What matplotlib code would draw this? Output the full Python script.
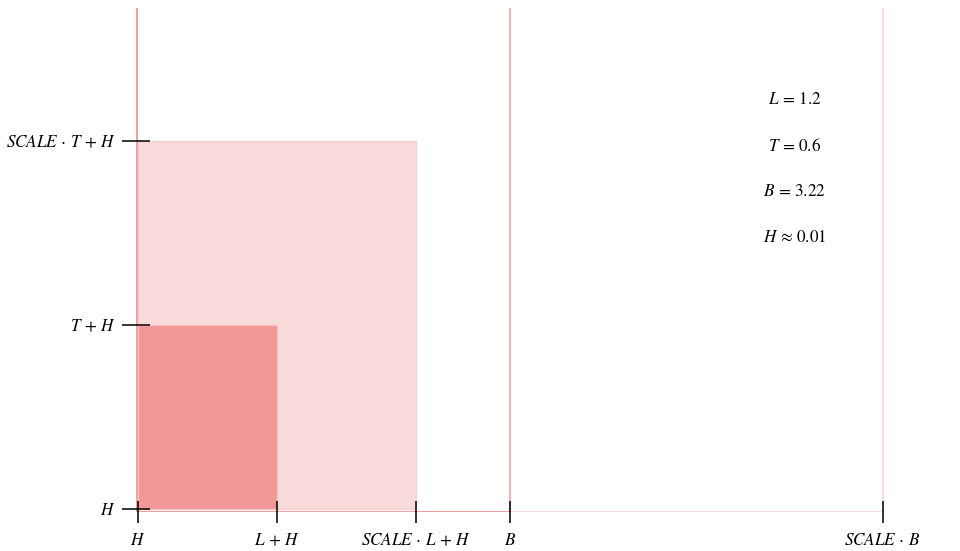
import matplotlib
matplotlib.use("Agg")
import matplotlib.pyplot as plt
from matplotlib.patches import Rectangle

# quantities shown in the diagram
L = 1.2
T = 0.6
B = 3.22
H = 0.01
SCALE = 2.0

x_tick_values = [H, L + H, SCALE * L + H, B, SCALE * B]
x_tick_labels = [r"$H$", r"$L\,+\,H$", r"$SCALE\,\cdot\,L\,+\,H$", r"$B$", r"$SCALE\,\cdot\,B$"]
y_tick_values = [H, T + H, SCALE * T + H]
y_tick_labels = [r"$H$", r"$T\,+\,H$", r"$SCALE\,\cdot\,T\,+\,H$"]
info_lines = [r"$L\,=\,1.2$", r"$T\,=\,0.6$", r"$B\,=\,3.22$", r"$H\,\approx\,0.01$"]

plt.rcParams["mathtext.fontset"] = "stix"
plt.rcParams["font.family"] = ["STIXGeneral", "DejaVu Serif"]

fs = 12.3

fig = plt.figure(figsize=(9.6, 5.51), dpi=100)
ax = fig.add_axes([0.1419, 0.0708, 0.8581, 0.9147])

accent = "lightcoral"

# outer bounding boxes of width B and SCALE*B
ax.add_patch(Rectangle((0, 0), SCALE * B, 10, fill=False, edgecolor=accent, alpha=0.3, lw=1.2))
ax.add_patch(Rectangle((0, 0), B, 10, fill=False, edgecolor="#e06666", alpha=0.6, lw=1.2))

# scaled block and base block
ax.add_patch(Rectangle((H, H), SCALE * L, SCALE * T, facecolor=accent, alpha=0.28,
                       edgecolor=accent, lw=1.0))
ax.add_patch(Rectangle((H, H), L, T, facecolor=accent, alpha=0.75,
                       edgecolor="#f7c7c5", lw=1.0))

ax.set_xlim(-0.005, 7.109)
ax.set_ylim(0.0, 1.645)

for s in ax.spines.values():
    s.set_visible(False)

ax.set_xticks(x_tick_values)
ax.set_xticklabels(x_tick_labels)
ax.set_yticks(y_tick_values)
ax.set_yticklabels(y_tick_labels)
ax.tick_params(axis="x", direction="inout", length=16, width=1.1, color="black",
               labelsize=fs, pad=7)
ax.tick_params(axis="y", direction="inout", length=20, width=1.1, color="black",
               labelsize=fs, pad=5)

for i, txt in enumerate(info_lines):
    ax.text(0.799, 0.817 - i * 0.0913, txt, transform=ax.transAxes,
            ha="center", va="center", fontsize=fs)

fig.savefig("out.png", dpi=100)
